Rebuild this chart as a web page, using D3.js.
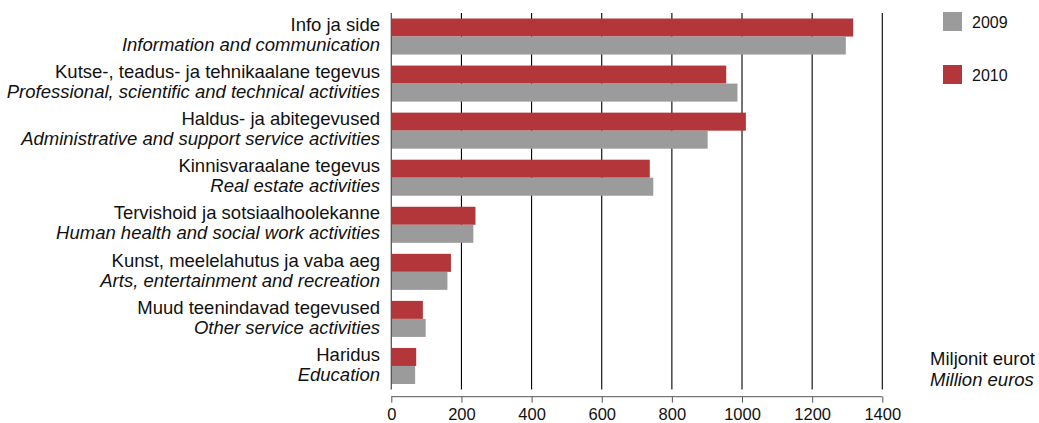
<!DOCTYPE html>
<html><head><meta charset="utf-8">
<script src="https://cdn.jsdelivr.net/npm/d3@7/dist/d3.min.js"></script>
<style>body{margin:0;background:#fff}svg{display:block;font-family:"Liberation Sans",Arial,sans-serif}</style>
</head><body><svg id="c" width="1039" height="423"></svg>
<script>
const categoriesEt = ["Info ja side","Kutse-, teadus- ja tehnikaalane tegevus","Haldus- ja abitegevused","Kinnisvaraalane tegevus","Tervishoid ja sotsiaalhoolekanne","Kunst, meelelahutus ja vaba aeg","Muud teenindavad tegevused","Haridus"];
const categoriesEn = ["Information and communication","Professional, scientific and technical activities","Administrative and support service activities","Real estate activities","Human health and social work activities","Arts, entertainment and recreation","Other service activities","Education"];
const series = ["2010","2009"];
const values2010 = [1317,955,1011,737,240,170,90,71];
const values2009 = [1296,987,902,747,234,160,98,68];
const xTicks = [0,200,400,600,800,1000,1200,1400];
const unitLines = ["Miljonit eurot","Million euros"];

(function(){
const colors = {"2009":"#9b9b9b","2010":"#b3363a"};
const svg = d3.select("#c");
const pl = 391.3, pr = 882.3, pt = 13, pb = 389.5;
const x = d3.scaleLinear().domain([0,1400]).range([pl,pr]);
const y = d3.scaleBand().domain(d3.range(categoriesEt.length)).range([pt,pb]).paddingInner(0.234).paddingOuter(0.117);
const ys = d3.scaleBand().domain(series).range([0,y.bandwidth()]);

svg.append("g").selectAll("line").data(xTicks.slice(1)).join("line")
  .attr("x1",d=>x(d)).attr("x2",d=>x(d)).attr("y1",pt).attr("y2",pb)
  .attr("stroke","#000").attr("stroke-width",1.1);

const data = categoriesEt.map((c,i)=>({i, v:{"2010":values2010[i],"2009":values2009[i]}}));
const g = svg.append("g");
data.forEach(d=>{
  series.forEach(s=>{
    g.append("rect").attr("x",x(0)).attr("y",y(d.i)+ys(s))
      .attr("width",x(d.v[s])-x(0)).attr("height",ys.bandwidth())
      .attr("fill",colors[s]);
  });
});

svg.append("line").attr("x1",x(0)).attr("x2",x(0)).attr("y1",pt).attr("y2",pb)
  .attr("stroke","#555").attr("stroke-width",1.3);

const axis = d3.axisBottom(x).tickValues(xTicks).tickSize(6).tickFormat(d3.format("d"));
const ax = svg.append("g").attr("transform","translate(0,396.7)").call(axis);
ax.select(".domain").attr("stroke","#555").attr("d",`M${pl},0H${pr}`);
ax.selectAll(".tick line").attr("stroke","#555");
ax.selectAll("text").attr("font-size",16.5).attr("fill","#111").attr("y",8).attr("dy","0.95em").attr("font-family","Liberation Sans, Arial, sans-serif");

const lab = svg.append("g").attr("text-anchor","end").attr("font-size",18.5).attr("fill","#111");
categoriesEt.forEach((c,i)=>{
  const cy = y(i)+y.bandwidth()/2;
  lab.append("text").attr("x",380).attr("y",cy-5.3).text(c);
  lab.append("text").attr("x",380).attr("y",cy+14.7).attr("font-style","italic").text(categoriesEn[i]);
});

const legendOrder = ["2009","2010"];
legendOrder.forEach((s,i)=>{
  const ly = 12 + i*53;
  svg.append("rect").attr("x",943).attr("y",ly).attr("width",19).attr("height",19).attr("fill",colors[s]);
  svg.append("text").attr("x",972).attr("y",ly+15.5).attr("font-size",16).attr("fill","#111").text(s);
});

svg.append("text").attr("x",930).attr("y",365).attr("font-size",18.5).attr("fill","#111").text(unitLines[0]);
svg.append("text").attr("x",930).attr("y",386).attr("font-size",18.5).attr("font-style","italic").attr("fill","#111").text(unitLines[1]);
})();
</script></body></html>
